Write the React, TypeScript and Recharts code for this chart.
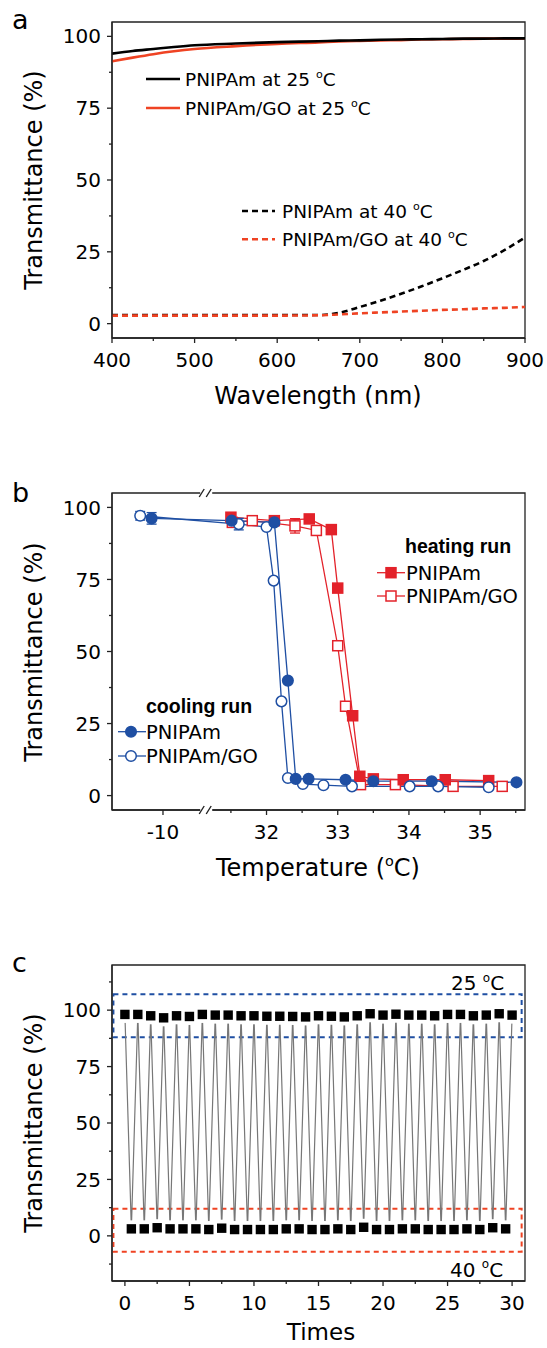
import React from 'react';
import { LineChart, Line, XAxis, YAxis, ReferenceArea, ReferenceDot, ErrorBar } from 'recharts';

const FONT = "'DejaVu Sans', sans-serif";
const BOLD_FONT = "'Liberation Sans', Arial, sans-serif";
const AXIS = '#222';
const BLUE = '#1f4fa3';
const RED = '#e3222a';
const ORANGE = '#ef4323';

// ---------- panel a: transmittance spectra ----------
const WAVELENGTHS = [400, 425, 450, 475, 500, 550, 600, 650, 675, 700, 725, 750, 775, 800, 825, 850, 875, 900];
const PNIPAM_25 = [94.0, 94.9, 95.6, 96.3, 96.9, 97.5, 98.0, 98.3, 98.5, 98.6, 98.8, 98.9, 99.0, 99.1, 99.2, 99.2, 99.3, 99.3];
const GO_25 = [91.3, 92.6, 93.8, 94.8, 95.6, 96.6, 97.4, 97.9, 98.2, 98.4, 98.6, 98.7, 98.9, 99.0, 99.1, 99.2, 99.2, 99.3];
const PNIPAM_40 = [3.0, 3.0, 3.0, 3.0, 3.0, 3.0, 3.0, 3.0, 3.8, 5.8, 8.0, 10.4, 13.0, 15.8, 18.7, 21.8, 25.6, 30.0];
const GO_40 = [2.8, 2.8, 2.8, 2.8, 2.8, 2.8, 2.8, 2.9, 3.2, 3.6, 3.9, 4.2, 4.5, 4.8, 5.0, 5.3, 5.5, 5.8];
const WL_TICKS = [400, 500, 600, 700, 800, 900];
const WL_MINOR = [450, 550, 650, 750, 850];
const T_TICKS = [0, 25, 50, 75, 100];
const T_MINOR = [12.5, 37.5, 62.5, 87.5];

// ---------- panel b: temperature sweeps ----------
const HEAT_PNIPAM_T = [31.5, 32.11, 32.6, 32.91, 33.0, 33.21, 33.31, 33.5, 33.92, 34.51, 35.12];
const HEAT_PNIPAM_Y = [96.6, 95.4, 96.0, 92.3, 72.0, 27.7, 6.7, 5.8, 5.5, 5.5, 5.2];
const HEAT_GO_T = [31.52, 31.8, 32.4, 32.7, 33.0, 33.11, 33.32, 33.81, 34.62, 35.31];
const HEAT_GO_Y = [94.8, 95.4, 93.6, 92.0, 52.0, 31.0, 3.8, 3.8, 3.2, 3.2];
const HEAT_GO_ERR = [0, 1.5, 2.5, 0, 0.8, 0.8, 0, 0, 0, 0];
const COOL_PNIPAM_T = [-10.16, 31.51, 32.11, 32.3, 32.41, 32.59, 33.11, 33.5, 34.32, 35.51];
const COOL_PNIPAM_Y = [96.2, 95.4, 94.8, 39.9, 5.8, 5.8, 5.5, 5.0, 5.0, 4.6];
const COOL_PNIPAM_ERR = [2, 0, 0, 0, 0, 0, 0, 0, 0, 0];
const COOL_GO_T = [-10.32, 31.61, 32.0, 32.1, 32.21, 32.3, 32.51, 32.8, 33.2, 34.01, 34.41, 35.12];
const COOL_GO_Y = [97.1, 94.2, 93.2, 74.6, 32.7, 6.1, 4.0, 3.6, 3.2, 3.2, 3.2, 2.9];
const COOL_GO_ERR = [1.5, 2, 0, 0, 0.6, 0.6, 0, 0, 0, 0, 0, 0];
const TEMP_TICKS = [-10, 32, 33, 34, 35];
const TEMP_MINOR = [31.5, 32.5, 33.5, 34.5, 35.5];

// ---------- panel c: cycling ----------
const TOP_TIMES = [0, 1, 2, 3, 4, 5, 6, 7, 8, 9, 10, 11, 12, 13, 14, 15, 16, 17, 18, 19, 20, 21, 22, 23, 24, 25, 26, 27, 28, 29, 30];
const TOP_VALUES = [98.1, 98.1, 97.5, 96.6, 97.5, 97.2, 98.1, 97.8, 97.8, 97.5, 97.5, 97.3, 97.3, 97.2, 97.0, 97.5, 97.3, 97.0, 97.5, 98.4, 97.8, 98.2, 97.8, 97.8, 97.5, 98.1, 98.1, 97.5, 97.8, 98.4, 97.8];
const BOTTOM_TIMES = [0.5, 1.5, 2.5, 3.5, 4.5, 5.5, 6.5, 7.5, 8.5, 9.5, 10.5, 11.5, 12.5, 13.5, 14.5, 15.5, 16.5, 17.5, 18.5, 19.5, 20.5, 21.5, 22.5, 23.5, 24.5, 25.5, 26.5, 27.5, 28.5, 29.5];
const BOTTOM_VALUES = [3.1, 3.1, 3.6, 3.1, 3.1, 3.1, 2.8, 3.4, 2.8, 2.8, 2.8, 2.8, 3.1, 3.1, 2.8, 2.8, 3.1, 2.8, 3.8, 2.8, 2.8, 3.1, 3.1, 2.8, 2.8, 2.8, 3.1, 2.8, 3.6, 3.1];
const TIME_TICKS = [0, 5, 10, 15, 20, 25, 30];
const TIME_MINOR = [2.5, 7.5, 12.5, 17.5, 22.5, 27.5];
const C_TICKS = [0, 25, 50, 75, 100];
const C_MINOR = [-12.5, 12.5, 37.5, 62.5, 87.5, 112.5];
const WARM_BAND = [88, 107];
const HOT_BAND = [-7, 12];

// axis break: the -10 segment is shifted next to 32 on the display axis
const BREAK_OFFSET = 40.546;
const BREAK_AT = 31.153;
const toDisplay = (t: number) => (t < 0 ? t + BREAK_OFFSET : t);
const fromDisplay = (v: number) => (v < BREAK_AT ? v - BREAK_OFFSET : v);

const TICK_SIZE = 5;
const X_MARGIN = 10;
const Y_MARGIN = 6;

const near = (list: number[], v: number) => list.some(m => Math.abs(m - v) < 1e-6);

function makeXTick(majors: number[], fmt: (v: number) => string = v => String(v)) {
  return (props: any) => {
    const { x, y, payload } = props;
    const v = payload.value;
    const major = near(majors, v);
    const ay = y - TICK_SIZE - X_MARGIN;
    return (
      <g>
        <line x1={x} x2={x} y1={ay} y2={ay + (major ? 5 : 3)} stroke={AXIS} strokeWidth={1.3} />
        {major && (
          <text x={x} y={y} dy="0.71em" textAnchor="middle" fontFamily={FONT} fontSize={20} fill="#000">
            {fmt(v)}
          </text>
        )}
      </g>
    );
  };
}

function makeYTick(majors: number[]) {
  return (props: any) => {
    const { x, y, payload } = props;
    const v = payload.value;
    const major = near(majors, v);
    const ax = x + TICK_SIZE + Y_MARGIN;
    return (
      <g>
        <line x1={ax - (major ? 5 : 3)} x2={ax} y1={y} y2={y} stroke={AXIS} strokeWidth={1.3} />
        {major && (
          <text x={x} y={y} dy="0.355em" textAnchor="end" fontFamily={FONT} fontSize={20} fill="#000">
            {v}
          </text>
        )}
      </g>
    );
  };
}

const xAxisProps = {
  type: 'number' as const,
  dataKey: 'x',
  allowDataOverflow: true,
  interval: 0 as const,
  tickSize: TICK_SIZE,
  tickMargin: X_MARGIN,
  tickLine: false,
  axisLine: { stroke: AXIS, strokeWidth: 1.3 },
};
const yAxisProps = {
  type: 'number' as const,
  allowDataOverflow: true,
  interval: 0 as const,
  width: 112,
  tickSize: TICK_SIZE,
  tickMargin: Y_MARGIN,
  tickLine: false,
  axisLine: { stroke: AXIS, strokeWidth: 1.3 },
};

const spectra = WAVELENGTHS.map((w, i) => ({
  x: w,
  p25: PNIPAM_25[i],
  g25: GO_25[i],
  p40: PNIPAM_40[i],
  g40: GO_40[i],
}));

const series = (ts: number[], ys: number[], errs?: number[]) =>
  ts.map((t, i) => ({ x: toDisplay(t), y: ys[i], err: errs ? errs[i] : 0 }));

const heatPnipam = series(HEAT_PNIPAM_T, HEAT_PNIPAM_Y);
const heatGo = series(HEAT_GO_T, HEAT_GO_Y, HEAT_GO_ERR);
const coolPnipam = series(COOL_PNIPAM_T, COOL_PNIPAM_Y, COOL_PNIPAM_ERR);
const coolGo = series(COOL_GO_T, COOL_GO_Y, COOL_GO_ERR);

const cycles: { x: number; y: number }[] = [];
TOP_TIMES.forEach((t, i) => {
  cycles.push({ x: t, y: TOP_VALUES[i] });
  if (i < BOTTOM_TIMES.length) cycles.push({ x: BOTTOM_TIMES[i], y: BOTTOM_VALUES[i] });
});

const circleDot = (fill: string) => (p: any) => (
  <circle key={p.index} cx={p.cx} cy={p.cy} r={5.3} fill={fill} stroke={BLUE} strokeWidth={1.5} />
);
const squareDot = (fill: string) => (p: any) => (
  <rect key={p.index} x={p.cx - 5} y={p.cy - 5} width={10} height={10} fill={fill} stroke={RED} strokeWidth={1.5} />
);
const cycleDot = (p: any) => (
  <g key={p.index}>
    <rect x={p.cx - 5.5} y={p.cy - 8.5} width={11} height={17} fill="#fff" />
    <rect x={p.cx - 4.7} y={p.cy - 4.7} width={9.4} height={9.4} fill="#000" />
  </g>
);

const BreakMark = (p: any) => (
  <g>
    <rect x={p.cx - 6} y={p.cy - 2} width={12} height={4} fill="#fff" />
    <line x1={p.cx - 7} y1={p.cy + 4} x2={p.cx - 2} y2={p.cy - 4} stroke={AXIS} strokeWidth={1.4} />
    <line x1={p.cx} y1={p.cy + 4} x2={p.cx + 5} y2={p.cy - 4} stroke={AXIS} strokeWidth={1.4} />
  </g>
);

const Deg = ({ fs }: { fs: number }) => (
  <>
    <tspan dy={-fs * 0.42} fontSize={fs * 0.6}>o</tspan>
    <tspan dy={fs * 0.42}>C</tspan>
  </>
);

function Overlay() {
  const t = { fontFamily: FONT, fill: '#000' };
  const b = { fontFamily: BOLD_FONT, fontWeight: 700, fill: '#000', fontSize: 19.5 };
  return (
    <svg width={547} height={1348} style={{ position: 'absolute', left: 0, top: 0, pointerEvents: 'none' }}>
      {/* panel letters */}
      <text x={12} y={29} fontSize={27} {...t}>a</text>
      <text x={12} y={502} fontSize={27} {...t}>b</text>
      <text x={12} y={972} fontSize={27} {...t}>c</text>

      {/* axis titles */}
      <text transform="translate(42,180) rotate(-90)" textAnchor="middle" fontSize={24} {...t}>Transmittance (%)</text>
      <text transform="translate(42,652) rotate(-90)" textAnchor="middle" fontSize={24} {...t}>Transmittance (%)</text>
      <text transform="translate(42,1123) rotate(-90)" textAnchor="middle" fontSize={24} {...t}>Transmittance (%)</text>
      <text x={318} y={404} textAnchor="middle" fontSize={24} {...t}>Wavelength (nm)</text>
      <text x={318} y={876} textAnchor="middle" fontSize={24} {...t}>
        Temperature (<Deg fs={24} />)
      </text>
      <text x={321} y={1340} textAnchor="middle" fontSize={23} {...t}>Times</text>

      {/* panel a legend */}
      <line x1={146} x2={180} y1={79} y2={79} stroke="#000" strokeWidth={2.6} />
      <text x={185} y={85.5} fontSize={18.5} {...t}>PNIPAm at 25 <Deg fs={18.5} /></text>
      <line x1={146} x2={180} y1={108} y2={108} stroke={ORANGE} strokeWidth={2.6} />
      <text x={185} y={114.7} fontSize={18.5} {...t}>PNIPAm/GO at 25 <Deg fs={18.5} /></text>
      <line x1={242} x2={275} y1={211} y2={211} stroke="#000" strokeWidth={2.6} strokeDasharray="6 4" />
      <text x={282} y={217.7} fontSize={18.5} {...t}>PNIPAm at 40 <Deg fs={18.5} /></text>
      <line x1={242} x2={275} y1={239.3} y2={239.3} stroke={ORANGE} strokeWidth={2.6} strokeDasharray="6 4" />
      <text x={282} y={246} fontSize={18.5} {...t}>PNIPAm/GO at 40 <Deg fs={18.5} /></text>

      {/* panel b legends */}
      <text x={405} y={553} {...b}>heating run</text>
      <line x1={377} x2={405} y1={572.7} y2={572.7} stroke={RED} strokeWidth={1.3} />
      <rect x={386} y={567.7} width={10} height={10} fill={RED} stroke={RED} strokeWidth={1.5} />
      <text x={406} y={579.8} fontSize={19.5} {...t}>PNIPAm</text>
      <line x1={377} x2={405} y1={596} y2={596} stroke={RED} strokeWidth={1.3} />
      <rect x={386} y={591} width={10} height={10} fill="#fff" stroke={RED} strokeWidth={1.5} />
      <text x={406} y={603.1} fontSize={19.5} {...t}>PNIPAm/GO</text>

      <text x={146} y={713} {...b}>cooling run</text>
      <line x1={118} x2={146} y1={731.7} y2={731.7} stroke={BLUE} strokeWidth={1.3} />
      <circle cx={131} cy={731.7} r={5.3} fill={BLUE} stroke={BLUE} strokeWidth={1.5} />
      <text x={146} y={738.8} fontSize={19.5} {...t}>PNIPAm</text>
      <line x1={118} x2={146} y1={756} y2={756} stroke={BLUE} strokeWidth={1.3} />
      <circle cx={131} cy={756} r={5.3} fill="#fff" stroke={BLUE} strokeWidth={1.5} />
      <text x={146} y={763.1} fontSize={19.5} {...t}>PNIPAm/GO</text>

      {/* panel c band labels */}
      <text x={451} y={990} fontSize={20} {...t}>25 <Deg fs={20} /></text>
      <text x={450} y={1276.6} fontSize={20} {...t}>40 <Deg fs={20} /></text>
    </svg>
  );
}

export default function App() {
  return (
    <div style={{ position: 'absolute', left: 0, top: 0, width: 547, height: 1348, background: '#fff', overflow: 'hidden' }}>
      <div style={{ position: 'absolute', left: 0, top: 0 }}>
        <LineChart width={547} height={420} data={spectra} margin={{ top: 22, right: 22, bottom: 0, left: 0 }}>
          <XAxis {...xAxisProps} domain={[400, 900]} ticks={[...WL_TICKS, ...WL_MINOR]} height={82} tick={makeXTick(WL_TICKS)} />
          <YAxis {...yAxisProps} domain={[-5, 105]} ticks={[...T_TICKS, ...T_MINOR]} tick={makeYTick(T_TICKS)} />
          <ReferenceArea x1={400} x2={900} y1={-5} y2={105} fill="none" stroke={AXIS} strokeWidth={1.3} ifOverflow="visible" />
          <Line dataKey="p40" type="monotone" stroke="#000" strokeWidth={2.6} strokeDasharray="6 4" dot={false} isAnimationActive={false} />
          <Line dataKey="g40" type="monotone" stroke={ORANGE} strokeWidth={2.6} strokeDasharray="6 4" dot={false} isAnimationActive={false} />
          <Line dataKey="g25" type="monotone" stroke={ORANGE} strokeWidth={2.6} dot={false} isAnimationActive={false} />
          <Line dataKey="p25" type="monotone" stroke="#000" strokeWidth={2.6} dot={false} isAnimationActive={false} />
        </LineChart>
      </div>

      <div style={{ position: 'absolute', left: 0, top: 440 }}>
        <LineChart width={547} height={440} margin={{ top: 53, right: 22, bottom: 0, left: 0 }}>
          <XAxis
            {...xAxisProps}
            domain={[29.83, 35.63]}
            ticks={[...TEMP_TICKS.map(toDisplay), ...TEMP_MINOR]}
            height={70}
            tick={makeXTick(TEMP_TICKS.map(toDisplay), v => String(Math.round(fromDisplay(v))))}
          />
          <YAxis {...yAxisProps} domain={[-5, 105]} ticks={[...T_TICKS, ...T_MINOR]} tick={makeYTick(T_TICKS)} />
          <ReferenceArea x1={29.83} x2={35.63} y1={-5} y2={105} fill="none" stroke={AXIS} strokeWidth={1.3} ifOverflow="visible" />
          <ReferenceDot x={BREAK_AT} y={105} ifOverflow="visible" shape={BreakMark} />
          <ReferenceDot x={BREAK_AT} y={-5} ifOverflow="visible" shape={BreakMark} />
          <Line data={heatGo} dataKey="y" stroke={RED} strokeWidth={1.3} dot={squareDot('#fff')} isAnimationActive={false}>
            <ErrorBar dataKey="err" direction="y" width={5} stroke={RED} strokeWidth={1.3} />
          </Line>
          <Line data={heatPnipam} dataKey="y" stroke={RED} strokeWidth={1.3} dot={squareDot(RED)} isAnimationActive={false} />
          <Line data={coolGo} dataKey="y" stroke={BLUE} strokeWidth={1.3} dot={circleDot('#fff')} isAnimationActive={false}>
            <ErrorBar dataKey="err" direction="y" width={5} stroke={BLUE} strokeWidth={1.3} />
          </Line>
          <Line data={coolPnipam} dataKey="y" stroke={BLUE} strokeWidth={1.3} dot={circleDot(BLUE)} isAnimationActive={false}>
            <ErrorBar dataKey="err" direction="y" width={5} stroke={BLUE} strokeWidth={1.3} />
          </Line>
        </LineChart>
      </div>

      <div style={{ position: 'absolute', left: 0, top: 890 }}>
        <LineChart width={547} height={458} data={cycles} margin={{ top: 75, right: 22, bottom: 0, left: 0 }}>
          <XAxis {...xAxisProps} domain={[-1, 31]} ticks={[...TIME_TICKS, ...TIME_MINOR]} height={67} tick={makeXTick(TIME_TICKS)} />
          <YAxis {...yAxisProps} domain={[-20, 120]} ticks={[...C_TICKS, ...C_MINOR]} tick={makeYTick(C_TICKS)} />
          <ReferenceArea x1={-1} x2={31} y1={-20} y2={120} fill="none" stroke={AXIS} strokeWidth={1.3} ifOverflow="visible" />
          <ReferenceArea x1={-0.89} x2={30.74} y1={WARM_BAND[0]} y2={WARM_BAND[1]} fill="none" stroke={BLUE} strokeWidth={2} strokeDasharray="5 4" ifOverflow="visible" />
          <ReferenceArea x1={-0.89} x2={30.74} y1={HOT_BAND[0]} y2={HOT_BAND[1]} fill="none" stroke={ORANGE} strokeWidth={2} strokeDasharray="5 4" ifOverflow="visible" />
          <Line dataKey="y" type="linear" stroke="#777" strokeWidth={1.2} dot={cycleDot} isAnimationActive={false} />
        </LineChart>
      </div>

      <Overlay />
    </div>
  );
}
